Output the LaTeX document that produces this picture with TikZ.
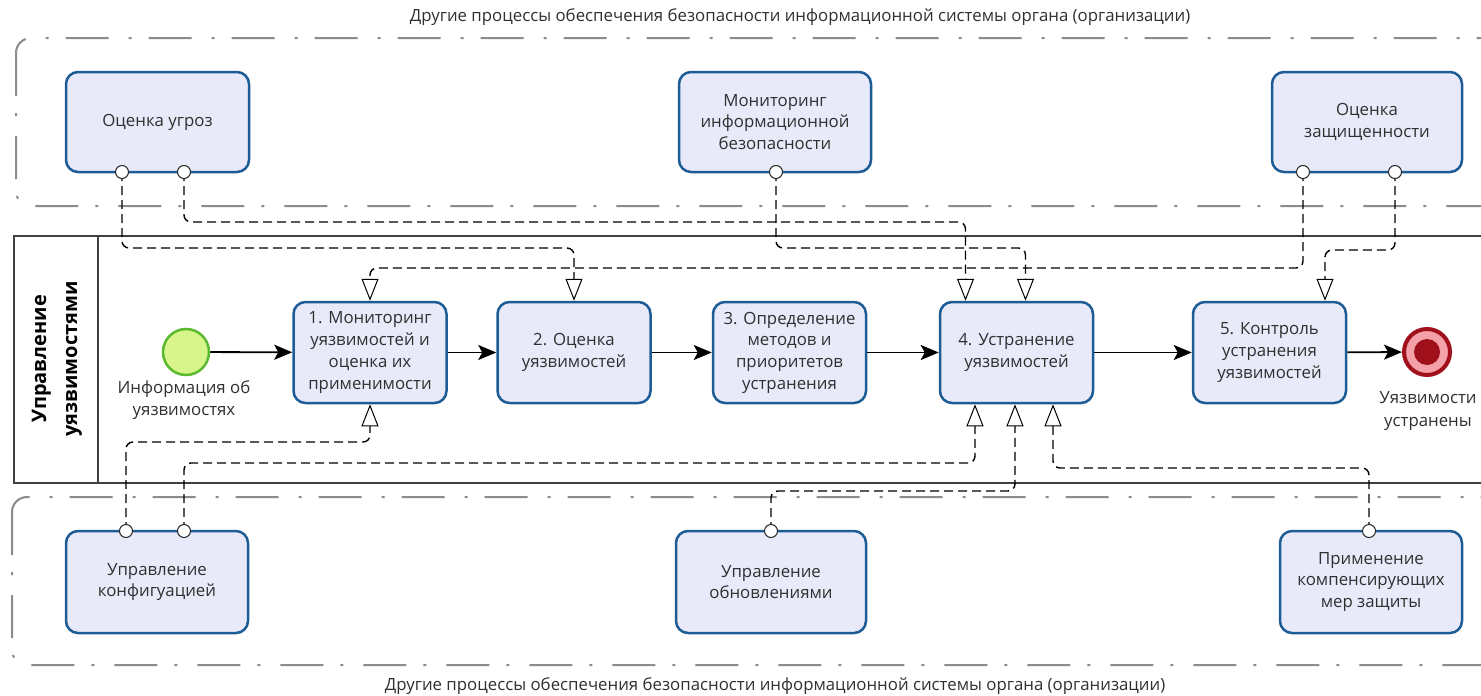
\documentclass[tikz,border=0pt]{standalone}
\usepackage{fontspec}
\setmainfont{Open Sans}
\usetikzlibrary{arrows.meta,calc}
\definecolor{taskfill}{HTML}{E8EAF9}
\definecolor{taskdraw}{HTML}{1E5C96}
\definecolor{grp}{HTML}{8C8C8C}
\definecolor{txt}{HTML}{303030}
\definecolor{lanecol}{HTML}{404040}
\definecolor{startfill}{HTML}{D8F58C}
\definecolor{startdraw}{HTML}{5CB82E}
\definecolor{endred}{HTML}{A0101A}
\definecolor{endpink}{HTML}{F4A0A8}
\tikzset{
  task/.style={draw=taskdraw, line width=2.5pt, fill=taskfill, rounded corners=12pt,
    minimum width=153pt, minimum height=101pt, align=center, text=txt,
    font=\fontsize{16.8}{21.7}\selectfont, inner sep=0pt},
  port/.style={circle, draw=black!85, fill=white, line width=1pt, minimum size=13pt, inner sep=0pt},
  assoc/.style={draw=black, line width=1.4pt, dash pattern=on 9pt off 5pt, rounded corners=7pt,
    -{Triangle[length=22pt, width=17pt, fill=white, line width=1pt]}},
  flow/.style={draw=black, line width=1.8pt, -{Stealth[length=18pt, width=15pt, inset=4pt]}},
  grpbox/.style={draw=grp, line width=2pt, rounded corners=15pt, dash pattern=on 43pt off 17pt on 3pt off 20pt},
  lbl/.style={text=txt, align=center, font=\fontsize{16.8}{22.5}\selectfont, inner sep=0pt}
}
\begin{document}
\begin{tikzpicture}[x=1pt, y=-1pt]
\useasboundingbox (0,0) rectangle (1481,696);
\clip (0,0) rectangle (1481,696);
\fill[white] (0,0) rectangle (1481,696);
% groups
\draw[grpbox] (16,38) rectangle (1530,206);
\draw[grpbox] (12,497) rectangle (1530,665);
\node[lbl] (ttop) at (800,17) {Другие процессы обеспечения безопасности информационной системы органа (организации)};
\node[lbl] (tbot) at (775,686) {Другие процессы обеспечения безопасности информационной системы органа (организации)};
% lane
\draw[lanecol, line width=1.5pt] (14,236) rectangle (1530,483);
\draw[lanecol, line width=1.5pt] (98,236) -- (98,483);
\node[rotate=90, align=center, text=black, font=\bfseries\fontsize{20}{31}\selectfont] (lane) at (57,359) {Управление\\уязвимостями};
% top group tasks
\node[task, minimum width=183pt, minimum height=100pt] (ou) at (157.5,122) {Оценка угроз};
\node[task, minimum width=192pt, minimum height=100pt] (mon) at (775,122) {Мониторинг\\информационной\\безопасности};
\node[task, minimum width=190pt, minimum height=100pt] (oz) at (1367,122) {Оценка\\защищенности};
% bottom group tasks
\node[task, minimum width=182pt, minimum height=102pt] (conf) at (157,582) {Управление\\конфигуацией};
\node[task, minimum width=190pt, minimum height=102pt] (upd) at (771,582) {Управление\\обновлениями};
\node[task, minimum width=182pt, minimum height=102pt] (comp) at (1371,582) {Применение\\компенсирующих\\мер защиты};
% lane tasks
\node[task] (t1) at (370,352.5) {1. Мониторинг\\уязвимостей и\\оценка их\\применимости};
\node[task] (t2) at (574,352.5) {2. Оценка\\уязвимостей};
\node[task] (t3) at (789.5,352.5) {3. Определение\\методов и\\приоритетов\\устранения};
\node[task] (t4) at (1016.5,352.5) {4. Устранение\\уязвимостей};
\node[task] (t5) at (1269.5,352.5) {5. Контроль\\устранения\\уязвимостей};
% events
\node[circle, draw=startdraw, fill=startfill, line width=2.5pt, minimum size=46pt, inner sep=0pt] (start) at (186,352) {};
\node[lbl] (startl) at (184,400) {Информация об\\уязвимостях};
\node[circle, draw=endred, fill=endpink, line width=4pt, minimum size=46pt, inner sep=0pt] (end) at (1427,352) {};
\node[circle, fill=endred, minimum size=26pt, inner sep=0pt] (endin) at (end) {};
\node[lbl] (endl) at (1428,411) {Уязвимости\\устранены};
% sequence flows
\draw[flow] (start) -- (t1);
\draw[flow] (t1) -- (t2);
\draw[flow] (t2) -- (t3);
\draw[flow] (t3) -- (t4);
\draw[flow] (t4) -- (t5);
\draw[flow] (t5) -- (end);
% ports
\coordinate (ouA) at (122,172);
\coordinate (ouB) at (184,172);
\coordinate (monA) at (776,172);
\coordinate (ozA) at (1303,172);
\coordinate (ozB) at (1395,172);
\coordinate (confA) at (126,531);
\coordinate (confB) at (184,531);
\coordinate (updA) at (771,531);
\coordinate (compA) at (1369,531);
% associations top
\draw[assoc] (ouA) -- ++(0,76) -| (t2.north);
\draw[assoc] (ouB) -- ++(0,50) -| ($(t4.north)+(-51,0)$);
\draw[assoc] (monA) -- ++(0,76) -| ($(t4.north)+(9,0)$);
\draw[assoc] (ozA) -- ++(0,96) -| (t1.north);
\draw[assoc] (ozB) -- ++(0,78) -| ($(t5.north)+(55.5,0)$);
% associations bottom
\draw[assoc] (confA) -- ++(0,-89) -| (t1.south);
\draw[assoc] (confB) -- ++(0,-68) -| ($(t4.south)+(-41.5,0)$);
\draw[assoc] (updA) -- ++(0,-40) -| ($(t4.south)+(-1.5,0)$);
\draw[assoc] (compA) -- ++(0,-63) -| ($(t4.south)+(36.5,0)$);
% port circles
\foreach \p in {ouA,ouB,monA,ozA,ozB,confA,confB,updA,compA}{
  \node[port] at (\p) {};
}
\end{tikzpicture}
\end{document}
